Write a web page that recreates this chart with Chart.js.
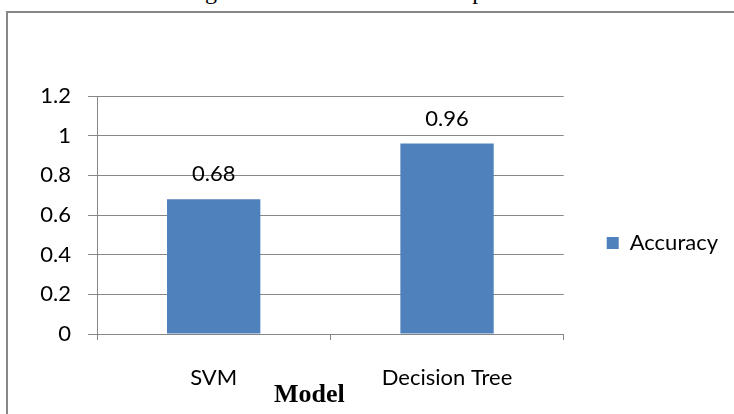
<!DOCTYPE html>
<html>
<head>
<meta charset="utf-8">
<script src="https://cdn.jsdelivr.net/npm/chart.js@4/dist/chart.umd.min.js"></script>
<style>
  html, body { margin: 0; padding: 0; background: #fff; overflow: hidden; }
  body { width: 734px; height: 414px; position: relative; }
  #caption {
    position: absolute; left: 185px; top: -21px; white-space: nowrap;
    font: 24px "Liberation Serif", "Times New Roman", serif; line-height: 24px; color: #000;
  }
  #frame {
    position: absolute; left: 6px; top: 11px; width: 800px; height: 500px;
    border: 2px solid #878787; box-sizing: border-box;
  }
  #wrap { position: absolute; left: 0; top: 0; width: 734px; height: 414px; }
</style>
</head>
<body>
<div id="caption">Fig. 4 Model Evaluation Comparison</div>
<div id="frame"></div>
<div id="wrap"><canvas id="chart"></canvas></div>
<script>
  // Chart data
  const models = ['SVM', 'Decision Tree'];
  const accuracy = [0.68, 0.96];
  const seriesName = 'Accuracy';
  const axisTitle = 'Model';

  const gridColor = '#868686';
  const barColor = '#4F81BD';
  const baseFont = 'Lato, "Open Sans", sans-serif';

  // Value labels above each bar
  const valueLabels = {
    id: 'valueLabels',
    afterDatasetsDraw(chart) {
      const ctx = chart.ctx;
      const meta = chart.getDatasetMeta(0);
      ctx.save();
      ctx.font = '22px ' + baseFont;
      ctx.fillStyle = '#000';
      ctx.textAlign = 'center';
      ctx.textBaseline = 'middle';
      meta.data.forEach((bar, i) => {
        ctx.fillText(String(accuracy[i]), bar.x, bar.y - 25);
      });
      ctx.restore();
    }
  };

  // "Model" title sits left of centre, like the original
  const xTitle = {
    id: 'xTitle',
    afterDraw(chart) {
      const ctx = chart.ctx;
      ctx.save();
      ctx.font = 'bold 26px "Liberation Serif", "Times New Roman", serif';
      ctx.fillStyle = '#000';
      ctx.textAlign = 'left';
      ctx.textBaseline = 'middle';
      ctx.fillText(axisTitle, 274, 395);
      ctx.restore();
    }
  };

  new Chart(document.getElementById('chart'), {
    type: 'bar',
    data: {
      labels: models,
      datasets: [{
        label: seriesName,
        data: accuracy,
        backgroundColor: barColor,
        borderWidth: 0,
        categoryPercentage: 1,
        barPercentage: 0.4
      }]
    },
    options: {
      responsive: true,
      maintainAspectRatio: false,
      animation: false,
      layout: { padding: { top: 96, right: 6, bottom: 24, left: 0 } },
      plugins: {
        tooltip: { enabled: false },
        legend: {
          position: 'right',
          labels: {
            boxWidth: 12,
            boxHeight: 12,
            padding: 43,
            color: '#000',
            font: { family: baseFont, size: 22 }
          }
        }
      },
      scales: {
        x: {
          offset: true,
          grid: {
            offset: true,
            drawOnChartArea: false,
            drawTicks: true,
            tickLength: 6,
            color: gridColor
          },
          border: { display: true, color: gridColor, width: 1 },
          ticks: {
            padding: 25,
            color: '#000',
            font: { family: baseFont, size: 22 }
          },
          afterFit(scale) { scale.height = 56; }
        },
        y: {
          min: 0,
          max: 1.2,
          ticks: {
            stepSize: 0.2,
            padding: 17,
            color: '#000',
            font: { family: baseFont, size: 22 },
            callback: (v) => String(Math.round(v * 10) / 10)
          },
          grid: { color: gridColor, tickLength: 9, lineWidth: 1 },
          border: { display: true, color: gridColor, width: 1 },
          afterFit(scale) { scale.width = 97; }
        }
      }
    },
    plugins: [valueLabels, xTitle]
  });
</script>
</body>
</html>
